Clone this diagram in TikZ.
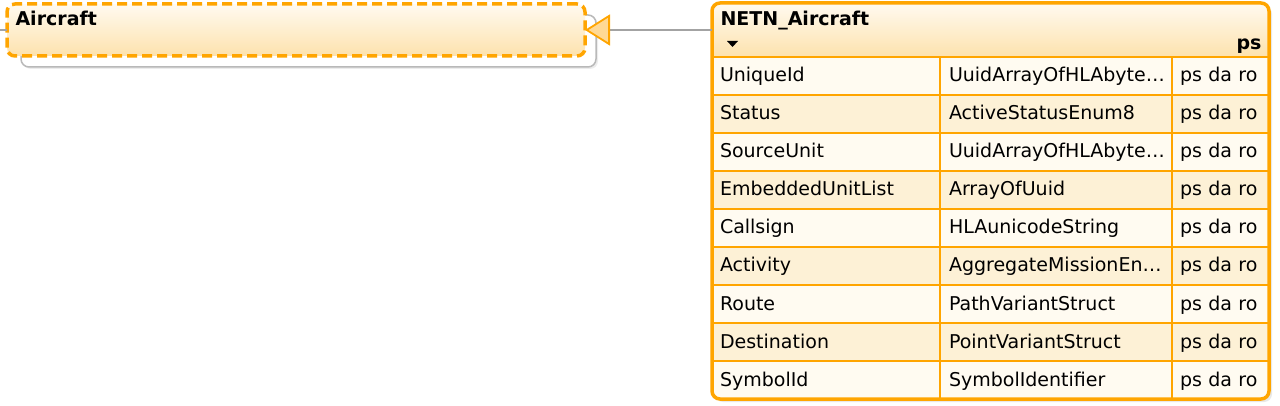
\documentclass[tikz,border=0pt]{standalone}
\usepackage{fontspec}
\setmainfont{DejaVu Sans}
\usepackage{xcolor}
\usetikzlibrary{positioning, arrows.meta, shadows, backgrounds}

\definecolor{umlorange}{HTML}{FFA500}
\definecolor{headtop}{HTML}{FFFAF0}
\definecolor{headbot}{HTML}{FDE2AD}
\definecolor{rowlight}{HTML}{FFFBF1}
\definecolor{rowdark}{HTML}{FDF1D6}
\definecolor{tipfill}{HTML}{FFD995}
\definecolor{linkgray}{HTML}{A3A3A3}

\begin{document}
\begin{tikzpicture}[
  x=1pt, y=-1pt,
  font=\fontsize{19}{22}\selectfont,
  node distance=0pt,
  classbox/.style={draw=umlorange, line width=3.5pt, dash pattern=on 10pt off 5pt, rounded corners=8pt,
    top color=headtop, bottom color=headbot, minimum width=578pt, minimum height=52pt, outer sep=0pt},
  backbox/.style={draw=gray!55, line width=1.5pt, fill=white, rounded corners=8pt, minimum width=575pt,
    minimum height=52pt, drop shadow={shadow xshift=2pt, shadow yshift=-2pt, opacity=0.15}},
  tableframe/.style={fill=white, rounded corners=8pt, minimum width=557pt, minimum height=396pt, outer sep=0pt,
    drop shadow={shadow xshift=3pt, shadow yshift=-3pt, opacity=0.18}},
  frameline/.style={draw=umlorange, line width=3.5pt, rounded corners=8pt},
  headcell/.style={draw=umlorange, line width=1.5pt, top color=headtop, bottom color=headbot,
    minimum width=557pt, minimum height=54pt, outer sep=0pt},
  cell/.style={draw=umlorange, line width=1.5pt, minimum height=38pt, outer sep=0pt, align=left,
    text height=16pt, text depth=4pt, inner ysep=0pt},
  attrcell/.style={cell, inner xsep=8pt, text width=212pt},
  typecell/.style={cell, inner xsep=9pt, text width=214pt},
  flagcell/.style={cell, inner xsep=8pt, text width=81pt},
  title/.style={font=\fontsize{19}{22}\selectfont\bfseries},
  link/.style={draw=linkgray, line width=2pt}
]

\useasboundingbox (0,0) rectangle (1280,406);

% NETN_Aircraft table
\node[tableframe] (netnframe) at (990.5,201) {};
\begin{scope}
  \clip[rounded corners=8pt] (netnframe.north west) rectangle (netnframe.south east);
  \node[headcell, anchor=north west] (head) at (netnframe.north west) {};
  \coordinate (row0) at (head.south west);
  \foreach \attr/\type [count=\i] in {UniqueId/UuidArrayOfHLAbyte…, Status/ActiveStatusEnum8,
      SourceUnit/UuidArrayOfHLAbyte…, EmbeddedUnitList/ArrayOfUuid, Callsign/HLAunicodeString,
      Activity/AggregateMissionEn…, Route/PathVariantStruct, Destination/PointVariantStruct,
      SymbolId/SymbolIdentifier} {
    \pgfmathtruncatemacro{\prev}{\i-1}
    \ifodd\i \def\rowcol{rowlight}\else\def\rowcol{rowdark}\fi
    \node[attrcell, fill=\rowcol, anchor=north west] (name\i) at (row\prev) {\attr};
    \node[typecell, fill=\rowcol, right=of name\i] (type\i) {\type};
    \node[flagcell, fill=\rowcol, right=of type\i] (flag\i) {ps da ro};
    \coordinate (row\i) at (name\i.south west);
  }
\end{scope}
\draw[frameline] (netnframe.north west) rectangle (netnframe.south east);

\node[title, anchor=base west] (netntitle) at ([shift={(5,23)}]head.north west) {NETN\_Aircraft};
\fill ([shift={(15,38)}]head.north west) -- ++(11,0) -- ++(-5.5,6) -- cycle;
\node[title, anchor=base east] (netnps) at ([shift={(-4,47)}]head.north east) {ps};

% Aircraft (external class)
\node[classbox, left=127pt of head] (aircraft) {};
\begin{scope}[on background layer]
  \node[backbox] (aircraftback) at ([shift={(12.5,11)}]aircraft) {};
\end{scope}
\node[title, anchor=base west] (aircrafttitle) at ([shift={(5,22)}]aircraft.north west) {Aircraft};

% connectors
\coordinate[left=7pt of aircraft.west] (offpage);
\draw[link] (offpage) -- (aircraft.west);
\draw[link, -{Triangle[length=25pt, width=31pt, color=umlorange, fill=tipfill, line width=1.8pt]}] (head.west) -- (aircraft.east);

\end{tikzpicture}
\end{document}
